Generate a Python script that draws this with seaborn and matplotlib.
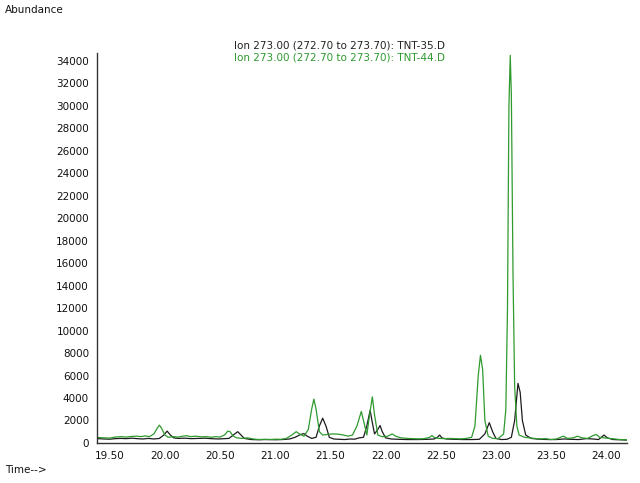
import numpy as np
import pandas as pd
import seaborn as sns
import matplotlib
matplotlib.use("Agg")
import matplotlib.pyplot as plt
from matplotlib.ticker import MultipleLocator, FormatStrFormatter

# TNT-35.D (black trace)
time_35 = [19.39, 19.45, 19.50, 19.55, 19.60, 19.65, 19.70, 19.75, 19.80, 19.85,
           19.90, 19.95, 19.99, 20.02, 20.05, 20.08, 20.12, 20.18, 20.24, 20.30,
           20.36, 20.42, 20.48, 20.54, 20.58, 20.62, 20.66, 20.69, 20.72, 20.78,
           20.85, 20.92, 21.00, 21.07, 21.13, 21.18, 21.23, 21.26, 21.29, 21.33,
           21.37, 21.40, 21.43, 21.46, 21.49, 21.53, 21.58, 21.63, 21.68, 21.72,
           21.76, 21.80, 21.83, 21.86, 21.88, 21.90, 21.93, 21.95, 21.97, 22.00,
           22.05, 22.12, 22.20, 22.30, 22.38, 22.44, 22.47, 22.49, 22.51, 22.55,
           22.62, 22.70, 22.78, 22.85, 22.90, 22.94, 22.97, 23.00, 23.05, 23.10,
           23.14, 23.17, 23.20, 23.22, 23.24, 23.27, 23.32, 23.40, 23.48, 23.55,
           23.62, 23.68, 23.75, 23.82, 23.88, 23.93, 23.98, 24.01, 24.06, 24.12,
           24.19]
abund_35 = [380, 350, 330, 380, 400, 380, 420, 380, 350, 400,
            350, 400, 700, 1050, 700, 450, 400, 420, 380, 400,
            420, 380, 350, 380, 400, 700, 1000, 700, 400, 300,
            280, 300, 280, 300, 350, 500, 750, 830, 600, 400,
            500, 1500, 2200, 1500, 500, 350, 320, 300, 350, 330,
            450, 500, 1500, 2900, 1800, 800, 1200, 1550, 1000, 450,
            350, 320, 300, 300, 320, 350, 500, 700, 450, 350,
            320, 300, 300, 320, 800, 1800, 1000, 400, 300, 320,
            500, 2000, 5300, 4500, 2000, 700, 400, 320, 300, 300,
            350, 320, 300, 380, 350, 300, 700, 450, 300, 280,
            250]

# TNT-44.D (green trace)
time_44 = [19.39, 19.45, 19.50, 19.55, 19.60, 19.65, 19.70, 19.75, 19.78, 19.82,
           19.86, 19.90, 19.93, 19.95, 19.97, 20.00, 20.03, 20.08, 20.12, 20.16,
           20.20, 20.23, 20.28, 20.33, 20.38, 20.42, 20.46, 20.50, 20.54, 20.57,
           20.59, 20.62, 20.65, 20.70, 20.75, 20.80, 20.85, 20.90, 20.95, 21.00,
           21.05, 21.10, 21.15, 21.19, 21.22, 21.26, 21.30, 21.33, 21.35, 21.37,
           21.40, 21.43, 21.47, 21.52, 21.57, 21.62, 21.66, 21.70, 21.74, 21.78,
           21.80, 21.83, 21.855, 21.88, 21.90, 21.93, 21.97, 22.02, 22.06, 22.09,
           22.14, 22.20, 22.25, 22.30, 22.35, 22.40, 22.42, 22.44, 22.48, 22.53,
           22.58, 22.63, 22.68, 22.73, 22.78, 22.81, 22.84, 22.86, 22.88, 22.90,
           22.93, 22.97, 23.02, 23.07, 23.09, 23.105, 23.118, 23.13, 23.14, 23.155,
           23.17, 23.19, 23.21, 23.26, 23.30, 23.35, 23.40, 23.45, 23.50, 23.55,
           23.61, 23.65, 23.70, 23.74, 23.78, 23.83, 23.88, 23.91, 23.94, 23.98,
           24.03, 24.08, 24.12, 24.19]
abund_44 = [480, 450, 430, 520, 560, 520, 580, 600, 560, 620,
            560, 800, 1300, 1580, 1300, 700, 500, 560, 520, 600,
            640, 560, 600, 540, 560, 500, 560, 520, 700, 1050,
            1000, 600, 450, 400, 450, 350, 300, 320, 300, 330,
            320, 400, 700, 1000, 800, 600, 1200, 3000, 3900, 3000,
            1000, 700, 750, 800, 780, 700, 600, 700, 1500, 2800,
            2000, 700, 2500, 4100, 2500, 700, 550, 600, 800, 600,
            450, 400, 380, 360, 380, 500, 650, 500, 400, 380,
            400, 380, 360, 400, 500, 1500, 6000, 7800, 6500, 2000,
            600, 400, 380, 800, 3000, 12000, 30000, 34500, 31000, 15000,
            5000, 1500, 700, 500, 450, 400, 350, 380, 300, 350,
            600, 400, 450, 600, 450, 400, 650, 750, 500, 450,
            400, 350, 300, 280]

legend_35 = "Ion 273.00 (272.70 to 273.70): TNT-35.D"
legend_44 = "Ion 273.00 (272.70 to 273.70): TNT-44.D"

sns.set_style("white")
plt.rcParams["font.family"] = ["DejaVu Sans"]

black = "#1c1c1c"
green = "#2f9a2f"

fig = plt.figure(figsize=(6.4, 4.83), dpi=100)
ax = fig.add_axes([0.152, 0.083, 0.828, 0.807])

sns.lineplot(x=time_35, y=abund_35, color=black, linewidth=0.9, estimator=None, ax=ax)
sns.lineplot(x=time_44, y=abund_44, color=green, linewidth=0.9, estimator=None, ax=ax)

ax.set_xlim(19.387, 24.19)
ax.set_ylim(0, 34700)
ax.xaxis.set_major_locator(MultipleLocator(0.5))
ax.xaxis.set_minor_locator(MultipleLocator(0.1))
ax.xaxis.set_major_formatter(FormatStrFormatter("%.2f"))
ax.yaxis.set_major_locator(MultipleLocator(2000))
ax.yaxis.set_minor_locator(MultipleLocator(400))

for side in ["top", "right"]:
    ax.spines[side].set_visible(False)
for side in ["left", "bottom"]:
    ax.spines[side].set_color("#333333")
    ax.spines[side].set_linewidth(1.0)

ax.tick_params(axis="both", which="major", direction="out", length=4, width=0.8,
               color="#333333", labelsize=7.5, labelcolor="#111111")
ax.tick_params(axis="both", which="minor", direction="out", length=2, width=0.6,
               color="#333333")
ax.tick_params(axis="x", which="major", pad=2)
ax.tick_params(axis="y", which="major", pad=2)
ax.set_xlabel("")
ax.set_ylabel("")
ax.grid(False)

fig.text(5 / 640, 1 - 10 / 483, "Abundance", fontsize=7.5, color="#111111",
         ha="left", va="center")
fig.text(5 / 640, 1 - 470 / 483, "Time-->", fontsize=7.5, color="#111111",
         ha="left", va="center")
fig.text(234 / 640, 1 - 46 / 483, legend_35, fontsize=7.5, color="#222222",
         ha="left", va="center")
fig.text(234 / 640, 1 - 57 / 483, legend_44, fontsize=7.5, color=green,
         ha="left", va="center")

fig.savefig("out.png", dpi=100, facecolor="white")
